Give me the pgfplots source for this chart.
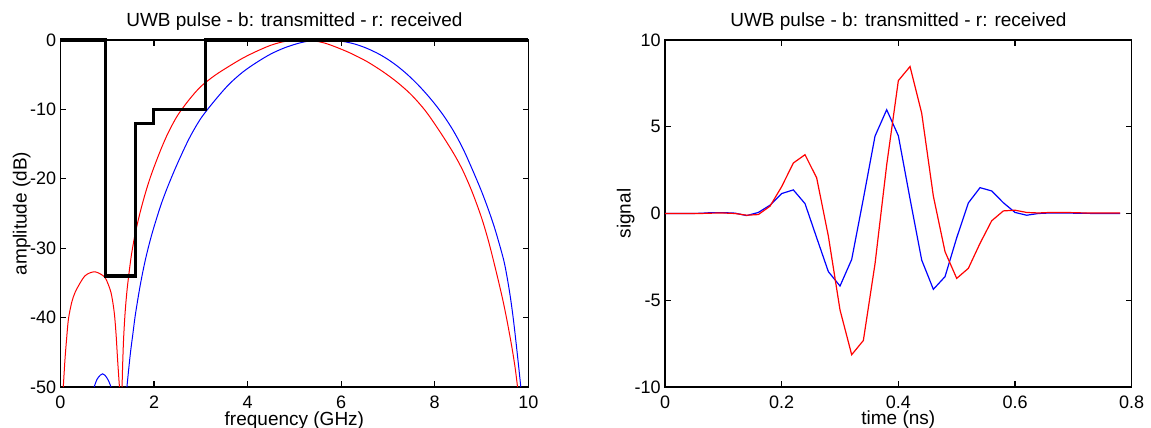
\documentclass[border=0pt]{standalone}
\usepackage{fontspec}
\setmainfont{Liberation Sans}
\usepackage{pgfplots}
\pgfplotsset{compat=1.18}

% transmitted (blue) and received (red) spectra, dB
\pgfplotstableread{
f     db
0.72  -50
0.78  -48.9
0.85  -48.3
0.90  -48.1
0.95  -48.3
1.02  -49.0
1.08  -50
}\bluelobe
\pgfplotstableread{
f     db
1.42  -50.0
1.46  -47.3
1.50  -44.8
1.55  -42.2
1.60  -39.6
1.70  -35.5
1.80  -32.1
1.90  -29.3
2.00  -26.9
2.15  -23.7
2.30  -21.0
2.50  -17.8
2.75  -14.2
3.00  -11.3
3.30  -8.7
3.60  -6.4
3.90  -4.6
4.20  -3.2
4.50  -2.0
4.80  -1.1
5.10  -0.45
5.35  -0.1
5.55  0
5.80  -0.05
6.05  -0.22
6.30  -0.6
6.55  -1.2
6.80  -2.0
7.00  -2.8
7.20  -3.76
7.40  -4.88
7.60  -6.16
7.80  -7.6
8.00  -9.2
8.20  -11.0
8.40  -13.1
8.60  -15.6
8.80  -18.6
9.00  -21.8
9.15  -24.5
9.29  -27.3
9.47  -31.6
9.55  -34.3
9.62  -37.2
9.68  -40.2
9.74  -43.7
9.79  -46.8
9.84  -50.0
}\bluemain
\pgfplotstableread{
f     db
0.06  -50
0.096 -46.0
0.13  -43.1
0.17  -40.2
0.24  -37.8
0.31  -36.4
0.42  -35.0
0.52  -34.0
0.63  -33.55
0.74  -33.4
0.85  -33.7
0.95  -34.2
1.02  -35.2
1.08  -36.4
1.13  -38.3
1.16  -40.0
1.19  -42.6
1.22  -46.0
1.26  -50
}\redlobe
\pgfplotstableread{
f     db
1.316 -50.0
1.33  -46.5
1.35  -42.9
1.38  -39.4
1.42  -36.2
1.47  -33.3
1.52  -30.8
1.60  -27.8
1.70  -24.9
1.80  -22.4
1.90  -20.2
2.00  -18.3
2.15  -15.7
2.30  -13.4
2.50  -10.9
2.75  -8.6
3.00  -6.7
3.30  -5.1
3.60  -3.8
3.90  -2.6
4.20  -1.6
4.50  -0.75
4.80  -0.2
5.15  0
5.40  -0.1
5.65  -0.45
5.90  -1.05
6.20  -1.9
6.55  -3.1
6.90  -4.6
7.20  -6.1
7.50  -7.9
7.80  -10.2
8.10  -13.1
8.40  -16.3
8.60  -18.8
8.80  -21.9
9.00  -25.6
9.15  -29.0
9.30  -33.0
9.45  -37.3
9.55  -40.6
9.65  -44.3
9.72  -47.3
9.77  -50.0
}\redmain

\begin{document}
\begin{tikzpicture}
\pgfplotsset{
  uwb/.style={
    scale only axis, height=173.5pt,
    axis line style={line width=0.7pt},
    tick align=inside, tick pos=both, major tick length=2.8pt,
    every tick/.style={black, line width=0.6pt},
    tick label style={font=\fontsize{9}{10}\selectfont},
    label style={font=\fontsize{9.5}{11}\selectfont},
    xticklabel style={anchor=north, inner sep=0pt, yshift=-4.3pt},
    yticklabel style={anchor=east, inner sep=0pt, xshift=-2pt},
    xlabel style={at={(0.5,0)}, anchor=base, yshift=-19pt},
    title style={font=\fontsize{9.5}{11}\selectfont, at={(0.5,1)}, anchor=base, yshift=0.7pt},
    title={UWB pulse - b: transmitted - r: received},
  }
}
\begin{axis}[uwb, width=233.9pt, clip=false,
    xmin=0, xmax=10, ymin=-50, ymax=0,
    xtick={0,2,4,6,8,10}, xticklabels={0,2,4,6,8,10},
    ytick={-50,-40,-30,-20,-10,0}, yticklabels={-50,-40,-30,-20,-10,0},
    xlabel={frequency (GHz)}, ylabel={amplitude (dB)},
    ylabel style={at={(-0.0723,0.5)}, anchor=base},
]
\addplot[blue, line width=0.5pt, smooth, tension=0.5] table[x=f, y=db] {\bluelobe};
\addplot[blue, line width=0.5pt, smooth, tension=0.5] table[x=f, y=db] {\bluemain};
\addplot[red, line width=0.5pt, smooth, tension=0.5] table[x=f, y=db] {\redlobe};
\addplot[red, line width=0.5pt, smooth, tension=0.5] table[x=f, y=db] {\redmain};
% FCC indoor mask
\addplot[black, line width=1.6pt] coordinates {
  (0,0) (0.96,0) (0.96,-34) (1.61,-34) (1.61,-12) (1.99,-12)
  (1.99,-10) (3.1,-10) (3.1,0) (10,0) };
\end{axis}

\begin{axis}[uwb, width=233.35pt, at={(302.25pt,0)},
    xmin=0, xmax=0.8, ymin=-10, ymax=10,
    xtick={0,0.2,0.4,0.6,0.8}, xticklabels={0,0.2,0.4,0.6,0.8},
    ytick={-10,-5,0,5,10}, yticklabels={-10,-5,0,5,10},
    xlabel={time (ns)}, ylabel={signal},
    ylabel style={at={(-0.0737,0.5)}, anchor=base},
]
\addplot[blue, line width=0.6pt] coordinates {
  (0.00,0) (0.02,0) (0.04,0) (0.06,0.01) (0.08,0.05) (0.10,0.05)
  (0.12,0.02) (0.14,-0.12) (0.16,0.06) (0.18,0.48) (0.20,1.15)
  (0.22,1.36) (0.24,0.57) (0.26,-1.4) (0.28,-3.35) (0.30,-4.18)
  (0.32,-2.65) (0.34,0.85) (0.36,4.46) (0.38,5.98) (0.40,4.48)
  (0.42,0.85) (0.44,-2.68) (0.46,-4.37) (0.48,-3.64) (0.50,-1.4)
  (0.52,0.61) (0.54,1.49) (0.56,1.3) (0.58,0.62) (0.60,0.06)
  (0.62,-0.1) (0.64,0.0) (0.66,0.03) (0.68,0.03) (0.70,0.02)
  (0.72,0.01) (0.74,0.0) (0.76,0.0) (0.78,0.0) };
\addplot[red, line width=0.6pt] coordinates {
  (0.00,0) (0.02,0) (0.04,0) (0.06,0) (0.08,0.02) (0.10,0.03)
  (0.12,0.0) (0.14,-0.1) (0.16,-0.06) (0.18,0.42) (0.20,1.55)
  (0.22,2.91) (0.24,3.39) (0.26,2.05) (0.28,-1.3) (0.30,-5.56)
  (0.32,-8.14) (0.34,-7.32) (0.36,-2.9) (0.38,2.8) (0.40,7.66)
  (0.42,8.47) (0.44,5.78) (0.46,1.0) (0.48,-2.2) (0.50,-3.74)
  (0.52,-3.16) (0.54,-1.72) (0.56,-0.42) (0.58,0.15) (0.60,0.19)
  (0.62,0.06) (0.64,0.03) (0.66,0.06) (0.68,0.06) (0.70,0.05)
  (0.72,0.03) (0.74,0.03) (0.76,0.03) (0.78,0.03) };
\end{axis}
\pgfresetboundingbox
\useasboundingbox (-30.25pt,-20.5pt) rectangle (545.25pt,193.5pt);
\end{tikzpicture}
\end{document}
